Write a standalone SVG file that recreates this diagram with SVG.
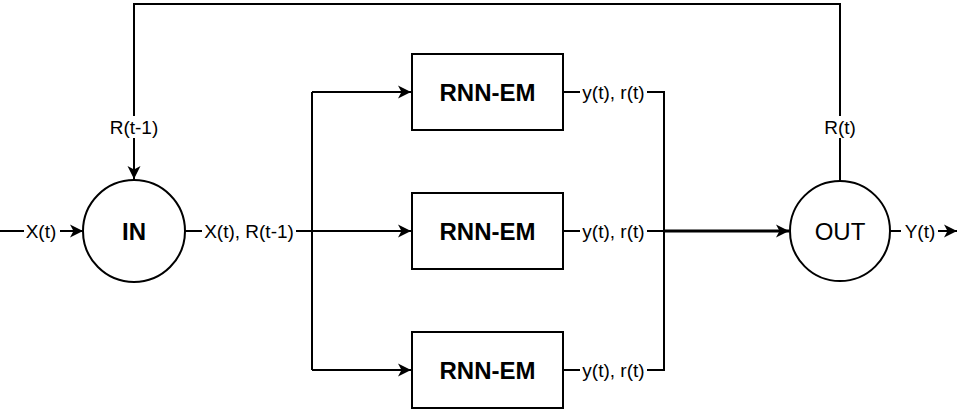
<svg xmlns="http://www.w3.org/2000/svg" width="958" height="413" viewBox="0 0 958 413">
<style>
.ln{fill:none;stroke:#000;stroke-width:2}
.shape{fill:#fff;stroke:#000;stroke-width:2}
.lbl{font-family:"Liberation Sans",Arial,sans-serif;font-size:19px;text-anchor:middle;fill:#000}
.bg{fill:#fff}
.big{font-family:"Liberation Sans",Arial,sans-serif;font-size:24px;text-anchor:middle;fill:#000}
</style>
<defs>
<marker id="ah" markerUnits="userSpaceOnUse" markerWidth="14" markerHeight="14" refX="13" refY="7" orient="auto" viewBox="0 0 14 14">
<path d="M0,0.5 L13,7 L0,13.5 L3.5,7 Z" fill="#000"/>
</marker>
</defs>
<g id="connectors">
<path class="ln" d="M0,231 H83" marker-end="url(#ah)"/>
<path class="ln" d="M185,231 H312"/>
<path class="ln" d="M312,92 V370"/>
<path class="ln" d="M312,92 H411" marker-end="url(#ah)"/>
<path class="ln" d="M312,231 H411" marker-end="url(#ah)"/>
<path class="ln" d="M312,370 H411" marker-end="url(#ah)"/>
<path class="ln" d="M563,92 H664 V370 H563"/>
<path class="ln" d="M563,231 H664"/>
<path class="ln" d="M664,231 H789" style="stroke-width:3" marker-end="url(#ah)"/>
<path class="ln" d="M840,181 V4 H134 V179" marker-end="url(#ah)"/>
<path class="ln" d="M890,231 H957" marker-end="url(#ah)"/>
<rect class="bg" x="24" y="221" width="36" height="22"/>
<text class="lbl" x="41" y="238">X(t)</text>
<rect class="bg" x="202" y="221" width="94" height="22"/>
<text class="lbl" x="249" y="238">X(t), R(t-1)</text>
<rect class="bg" x="580" y="82" width="67" height="22"/>
<text class="lbl" x="613.5" y="99">y(t), r(t)</text>
<rect class="bg" x="580" y="221" width="67" height="22"/>
<text class="lbl" x="613.5" y="238">y(t), r(t)</text>
<rect class="bg" x="580" y="360" width="67" height="22"/>
<text class="lbl" x="613.5" y="377">y(t), r(t)</text>
<rect class="bg" x="104" y="116" width="60" height="22"/>
<text class="lbl" x="134" y="134">R(t-1)</text>
<rect class="bg" x="822" y="116" width="36" height="22"/>
<text class="lbl" x="840" y="134">R(t)</text>
<rect class="bg" x="901" y="221" width="37" height="22"/>
<text class="lbl" x="920" y="238">Y(t)</text>
</g>
<g id="in">
<circle class="shape" cx="134" cy="231" r="51"/>
<text class="big" x="134" y="240" font-weight="bold">IN</text>
</g>
<g id="rnn1">
<rect class="shape" x="412" y="54" width="151" height="76"/>
<text class="big" x="487.5" y="101" font-weight="bold">RNN-EM</text>
</g>
<g id="rnn2">
<rect class="shape" x="412" y="193" width="151" height="76"/>
<text class="big" x="487.5" y="240" font-weight="bold">RNN-EM</text>
</g>
<g id="rnn3">
<rect class="shape" x="412" y="332" width="151" height="76"/>
<text class="big" x="487.5" y="379" font-weight="bold">RNN-EM</text>
</g>
<g id="out">
<circle class="shape" cx="840" cy="231" r="50"/>
<text class="big" x="840" y="240">OUT</text>
</g>
</svg>
